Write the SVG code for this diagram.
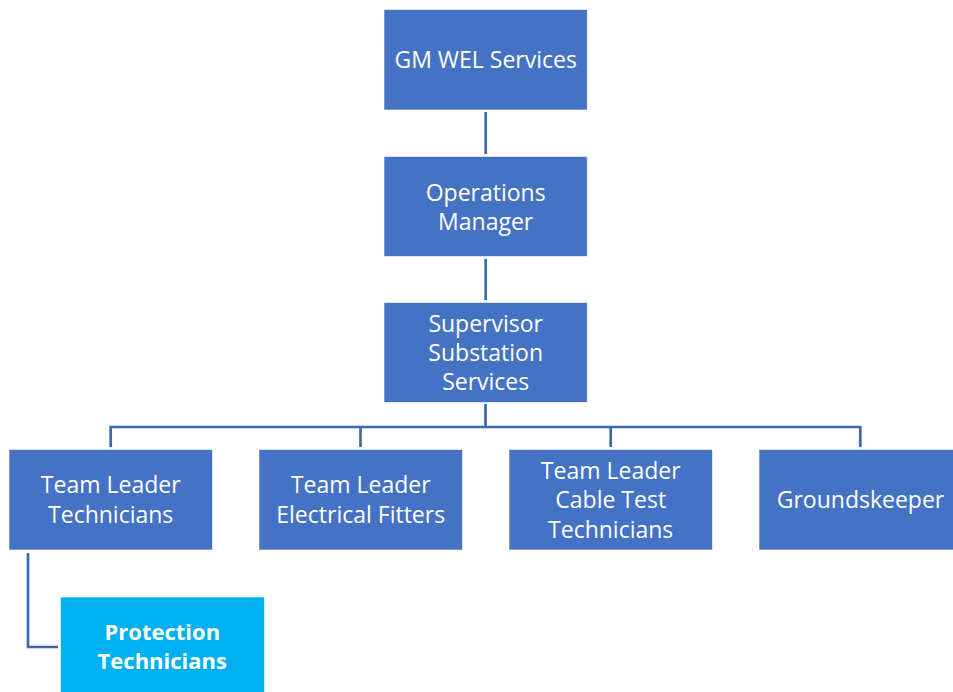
<svg xmlns="http://www.w3.org/2000/svg" width="953" height="692" viewBox="0 0 953 692">
<style>
.box{fill:#4472C4;stroke:#ffffff;stroke-opacity:0.6;stroke-width:1}
.pbox{fill:#00B0F0;stroke:#ffffff;stroke-opacity:0.6;stroke-width:1}
.t{font-family:"Open Sans","Noto Sans",sans-serif;font-size:23px;fill:#ffffff;text-anchor:middle}
.b{font-weight:bold;font-size:22px}
.c{fill:none;stroke:#3F66B0;stroke-width:2.7}
</style>
<rect width="953" height="692" fill="#ffffff"/>
<g id="connectors">
<line class="c" x1="485.7" y1="112" x2="485.7" y2="154"/>
<line class="c" x1="485.7" y1="259" x2="485.7" y2="300"/>
<polyline class="c" points="485.5,404 485.5,427"/>
<polyline class="c" points="110.7,447 110.7,427 860.3,427 860.3,447"/>
<line class="c" x1="360.5" y1="427" x2="360.5" y2="447"/>
<line class="c" x1="610.7" y1="427" x2="610.7" y2="447"/>
<polyline class="c" points="28,553 28,647 58,647"/>
</g>
<g id="gm">
<rect class="box" x="384" y="9.5" width="203.3" height="100.5"/>
<text class="t" x="485.7" y="68.3">GM WEL Services</text>
</g>
<g id="ops">
<rect class="box" x="384" y="156.5" width="203.3" height="100"/>
<text class="t" x="485.7" y="200.5">Operations</text>
<text class="t" x="485.7" y="229.5">Manager</text>
</g>
<g id="supervisor">
<rect class="box" x="384" y="302.5" width="203.3" height="100"/>
<text class="t" x="485.7" y="332">Supervisor</text>
<text class="t" x="485.7" y="361">Substation</text>
<text class="t" x="485.7" y="390">Services</text>
</g>
<g id="tl-tech">
<rect class="box" x="9" y="449.5" width="203.5" height="100.5"/>
<text class="t" x="110.7" y="493">Team Leader</text>
<text class="t" x="110.7" y="522.5">Technicians</text>
</g>
<g id="tl-fitters">
<rect class="box" x="259" y="449.5" width="203.5" height="100.5"/>
<text class="t" x="360.7" y="493">Team Leader</text>
<text class="t" x="360.7" y="522.5">Electrical Fitters</text>
</g>
<g id="tl-cable">
<rect class="box" x="509" y="449.5" width="203.5" height="100.5"/>
<text class="t" x="610.7" y="478.5">Team Leader</text>
<text class="t" x="610.7" y="508">Cable Test</text>
<text class="t" x="610.7" y="537.5">Technicians</text>
</g>
<g id="groundskeeper">
<rect class="box" x="759" y="449.5" width="203.5" height="100.5"/>
<text class="t" x="860.5" y="508">Groundskeeper</text>
</g>
<g id="protection">
<rect class="pbox" x="60.5" y="597" width="204" height="101"/>
<text class="t b" x="162.3" y="639.5">Protection</text>
<text class="t b" x="162.3" y="668.5">Technicians</text>
</g>
</svg>
